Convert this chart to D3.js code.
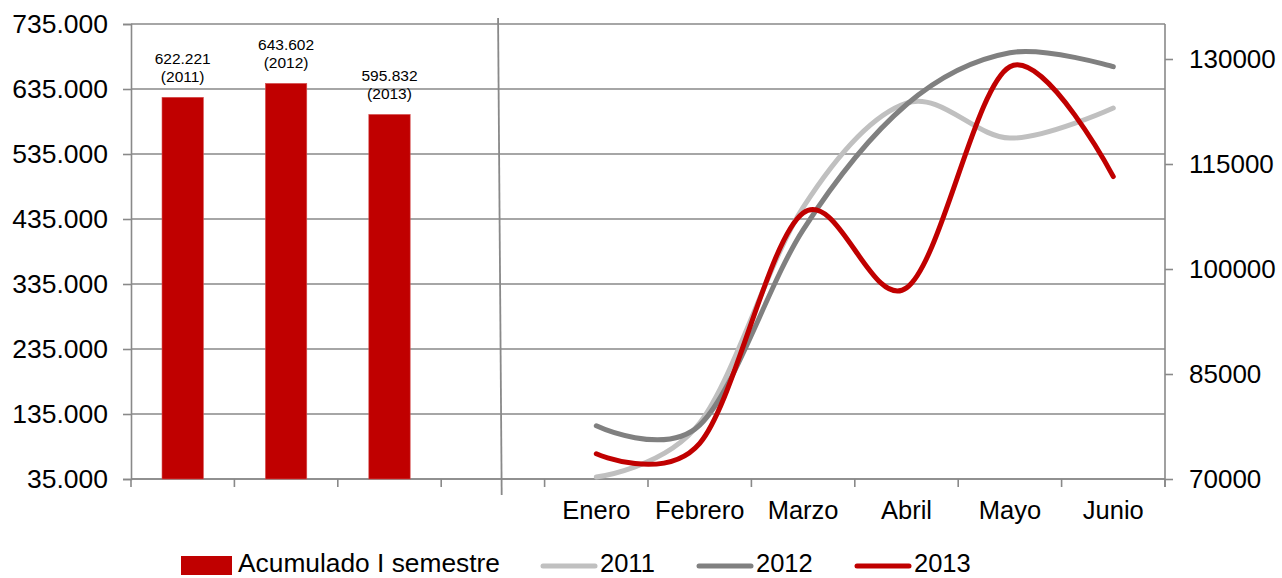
<!DOCTYPE html>
<html>
<head>
<meta charset="utf-8">
<script src="https://cdn.jsdelivr.net/npm/d3@7"></script>
<style>
  body { margin: 0; background: #fff; }
  text { font-family: "Liberation Sans", Arial, sans-serif; fill: #000; }
</style>
</head>
<body>
<div id="chart"></div>
<script>
// values
const barYears = ["2011", "2012", "2013"];
const barValues = [622221, 643602, 595832];
const months = ["Enero", "Febrero", "Marzo", "Abril", "Mayo", "Junio"];
const values2011 = [70300, 78000, 108800, 123700, 118700, 123000];
const values2012 = [77600, 77700, 105600, 123500, 130900, 128900];
const values2013 = [73600, 75100, 108000, 97300, 128900, 113200];
const leftTicks = [35000, 135000, 235000, 335000, 435000, 535000, 635000, 735000];
const rightTicks = [70000, 85000, 100000, 115000, 130000];
const seriesNames = ["2011", "2012", "2013"];
const seriesColors = ["#c0c0c0", "#808080", "#c00000"];

function drawChart() {
  const margin = { top: 24, right: 117, bottom: 99, left: 131 },
    width = 1282 - margin.left - margin.right,
    height = 578 - margin.top - margin.bottom;

  const svg = d3
    .select("#chart")
    .append("svg")
    .attr("width", width + margin.left + margin.right)
    .attr("height", height + margin.top + margin.bottom);

  const g = svg
    .append("g")
    .attr("transform", `translate(${margin.left}, ${margin.top})`);

  const grey = "#898989";
  const es = d3.formatLocale({ decimal: ",", thousands: ".", grouping: [3], currency: ["", ""] });
  const fmt = es.format(",.0f");

  // one band scale for the bars, an empty slot and the months
  const slots = barYears.map((d) => "s" + d).concat(["gap"], months);
  const x = d3.scaleBand().domain(slots).range([0, width]);
  const bw = x.bandwidth();

  const yL = d3.scaleLinear().domain([35000, 735000]).range([height, 0]);
  const yR = d3.scaleLinear().domain([70000, 135000]).range([height, 0]);

  // gridlines from the left axis
  g.append("g")
    .selectAll("line")
    .data(leftTicks)
    .join("line")
    .attr("x1", 0)
    .attr("x2", width)
    .attr("y1", (d) => yL(d))
    .attr("y2", (d) => yL(d))
    .style("stroke", grey)
    .style("stroke-width", 1.6);

  // left axis
  const left = g
    .append("g")
    .call(d3.axisLeft(yL).tickValues(leftTicks).tickFormat(fmt).tickSize(8).tickPadding(15));
  left.selectAll("line, path").style("stroke", grey).style("stroke-width", 1.6);
  left.selectAll("text").style("font-size", "26.5px").style("font-family", '"Liberation Sans", Arial, sans-serif');

  // right axis
  const right = g
    .append("g")
    .attr("transform", `translate(${width}, 0)`)
    .call(d3.axisRight(yR).tickValues(rightTicks).tickFormat(d3.format("d")).tickSize(8).tickPadding(16));
  right.selectAll("line, path").style("stroke", grey).style("stroke-width", 1.6);
  right.select(".domain").attr("d", `M0,0V${height + 8}`);
  right.selectAll("text").style("font-size", "26px").style("font-family", '"Liberation Sans", Arial, sans-serif');

  // bottom axis: ticks on the band edges, labels only under the months
  const edges = slots.map((s) => x(s)).concat([width]);
  g.append("g")
    .selectAll("line")
    .data(edges)
    .join("line")
    .attr("x1", (d) => d)
    .attr("x2", (d) => d)
    .attr("y1", height)
    .attr("y2", height + 8)
    .style("stroke", grey)
    .style("stroke-width", 1.6);

  g.append("line")
    .attr("x1", 0)
    .attr("x2", width)
    .attr("y1", height)
    .attr("y2", height)
    .style("stroke", grey)
    .style("stroke-width", 1.6);

  g.append("g")
    .selectAll("text")
    .data(months)
    .join("text")
    .attr("x", (d) => x(d) + bw / 2)
    .attr("y", height + 40)
    .attr("text-anchor", "middle")
    .style("font-size", "25.5px")
    .text((d) => d);

  // divider between the two parts
  g.append("line")
    .attr("x1", x("gap") + bw * 0.55)
    .attr("x2", x("gap") + bw * 0.585)
    .attr("y1", -6)
    .attr("y2", height + 16)
    .style("stroke", grey)
    .style("stroke-width", 1.8);

  // bars
  const barW = bw * 0.4;
  g.append("g")
    .selectAll("rect")
    .data(barValues)
    .join("rect")
    .attr("x", (d, i) => x("s" + barYears[i]) + (bw - barW) / 2)
    .attr("y", (d) => yL(d))
    .attr("width", barW)
    .attr("height", (d) => height - yL(d))
    .style("fill", "#c00000")
    .style("stroke", "#d65050")
    .style("stroke-width", 0.6);

  // bar labels
  const labels = g
    .append("g")
    .selectAll("text")
    .data(barValues)
    .join("text")
    .attr("text-anchor", "middle")
    .style("font-size", "15.5px");
  labels
    .append("tspan")
    .attr("x", (d, i) => x("s" + barYears[i]) + bw / 2)
    .attr("y", (d) => yL(d) - 33)
    .text((d) => fmt(d));
  labels
    .append("tspan")
    .attr("x", (d, i) => x("s" + barYears[i]) + bw / 2)
    .attr("y", (d) => yL(d) - 15)
    .text((d, i) => "(" + barYears[i] + ")");

  // smoothed lines
  const line = d3
    .line()
    .x((d, i) => x(months[i]) + bw / 2)
    .y((d) => yR(d))
    .curve(d3.curveCardinal.tension(0));

  [values2011, values2012, values2013].forEach(function (vals, k) {
    g.append("path")
      .datum(vals)
      .attr("d", line)
      .style("fill", "none")
      .style("stroke", seriesColors[k])
      .style("stroke-width", 5)
      .style("stroke-linecap", "round");
  });

  // legend
  const legend = svg.append("g");
  legend
    .append("rect")
    .attr("x", 181)
    .attr("y", 556)
    .attr("width", 51)
    .attr("height", 19)
    .style("fill", "#c00000");
  legend
    .append("text")
    .attr("x", 238)
    .attr("y", 572)
    .style("font-size", "25.5px")
    .attr("textLength", 262)
    .attr("lengthAdjust", "spacingAndGlyphs")
    .text("Acumulado I semestre");

  const lineItems = [541, 697, 855];
  seriesNames.forEach(function (name, k) {
    legend
      .append("line")
      .attr("x1", lineItems[k] + 2)
      .attr("x2", lineItems[k] + 54)
      .attr("y1", 566)
      .attr("y2", 566)
      .style("stroke", seriesColors[k])
      .style("stroke-width", 5)
      .style("stroke-linecap", "round");
    legend
      .append("text")
      .attr("x", lineItems[k] + 59)
      .attr("y", 572)
      .style("font-size", "25.5px")
      .text(name);
  });
}

drawChart();
</script>
</body>
</html>
